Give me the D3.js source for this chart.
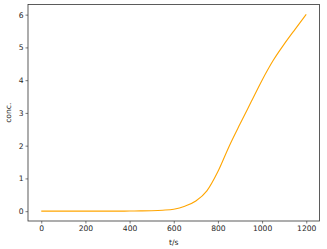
<!DOCTYPE html>
<html>
<head>
<meta charset="utf-8">
<script src="https://cdn.jsdelivr.net/npm/d3@7"></script>
<style>
body { margin: 0; background: #fff; }
text { font-family: "DejaVu Sans", sans-serif; fill: #262626; }
</style>
</head>
<body>
<svg id="chart" width="327" height="249"></svg>
<script>
const svg = d3.select('#chart')
const width = 327
const height = 249

// dati
const tempi = [0, 50, 100, 150, 200, 250, 300, 350, 400, 450, 500, 550, 600, 650, 700, 750, 800, 850, 900, 950, 1000, 1050, 1100, 1150, 1200]
const conc = [0, 0, 0, 0, 0, 0, 0.001, 0.002, 0.004, 0.008, 0.015, 0.03, 0.06, 0.15, 0.31, 0.62, 1.21, 1.97, 2.66, 3.33, 4.0, 4.6, 5.1, 5.56, 6.01]
const xTicks = [0, 200, 400, 600, 800, 1000, 1200]
const yTicks = [0, 1, 2, 3, 4, 5, 6]

const mLeft = 28, mRight = 319.5, mTop = 4.5, mBottom = 221
const colore = "#ffa500"
const fontSize = "7.6px"

const x = d3.scaleLinear().domain([-60, 1260]).range([mLeft, mRight])
const y = d3.scaleLinear().domain([-0.3, 6.31]).range([mBottom, mTop])

const data = tempi.map((t, i) => ({t: t, c: conc[i]}))

svg.append("path")
  .datum(data)
  .attr("fill", "none")
  .attr("stroke", colore)
  .attr("stroke-width", 1.1)
  .attr("d", d3.line().x(d => x(d.t)).y(d => y(d.c)).curve(d3.curveMonotoneX))

// assi
const asseX = d3.axisBottom(x).tickValues(xTicks).tickFormat(d3.format("d")).tickSize(2.5).tickPadding(2)
const asseY = d3.axisLeft(y).tickValues(yTicks).tickFormat(d3.format("d")).tickSize(2.5).tickPadding(2)

const gx = svg.append("g").attr("transform", `translate(0,${mBottom})`).call(asseX)
const gy = svg.append("g").attr("transform", `translate(${mLeft},0)`).call(asseY)
;[gx, gy].forEach(g => {
  g.select(".domain").remove()
  g.selectAll("line").attr("stroke", "#262626").attr("stroke-width", 0.6)
  g.selectAll("text").attr("font-size", fontSize).attr("fill", "#262626")
})

// cornice
svg.append("rect")
  .attr("x", mLeft).attr("y", mTop)
  .attr("width", mRight - mLeft).attr("height", mBottom - mTop)
  .attr("fill", "none").attr("stroke", "#333").attr("stroke-width", 0.8)

svg.append("text")
  .attr("x", (mLeft + mRight) / 2).attr("y", 245)
  .attr("text-anchor", "middle").attr("font-size", fontSize)
  .text("t/s")

svg.append("text")
  .attr("transform", `translate(11,${(mTop + mBottom) / 2}) rotate(-90)`)
  .attr("text-anchor", "middle").attr("font-size", fontSize)
  .text("conc.")
</script>
</body>
</html>
